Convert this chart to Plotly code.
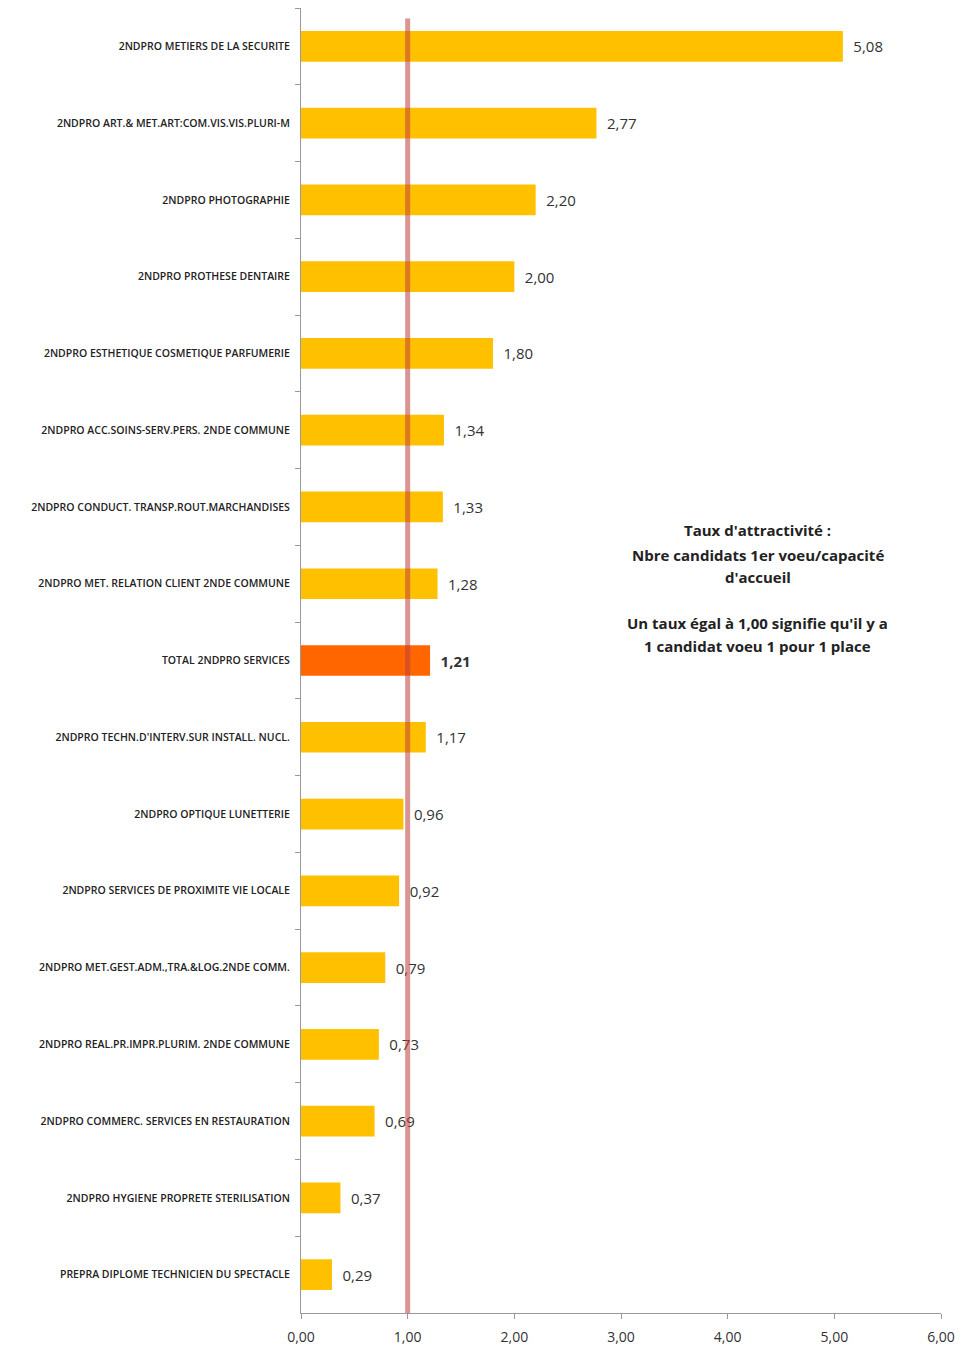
import plotly.graph_objects as go

categories = [
    "2NDPRO METIERS DE LA SECURITE",
    "2NDPRO ART.& MET.ART:COM.VIS.VIS.PLURI-M",
    "2NDPRO PHOTOGRAPHIE",
    "2NDPRO PROTHESE DENTAIRE",
    "2NDPRO ESTHETIQUE COSMETIQUE PARFUMERIE",
    "2NDPRO ACC.SOINS-SERV.PERS. 2NDE COMMUNE",
    "2NDPRO CONDUCT. TRANSP.ROUT.MARCHANDISES",
    "2NDPRO MET. RELATION CLIENT 2NDE COMMUNE",
    "TOTAL 2NDPRO SERVICES",
    "2NDPRO TECHN.D'INTERV.SUR INSTALL. NUCL.",
    "2NDPRO OPTIQUE LUNETTERIE",
    "2NDPRO SERVICES DE PROXIMITE VIE LOCALE",
    "2NDPRO MET.GEST.ADM.,TRA.&LOG.2NDE COMM.",
    "2NDPRO REAL.PR.IMPR.PLURIM. 2NDE COMMUNE",
    "2NDPRO COMMERC. SERVICES EN RESTAURATION",
    "2NDPRO HYGIENE PROPRETE STERILISATION",
    "PREPRA DIPLOME TECHNICIEN DU SPECTACLE",
]
values = [5.08, 2.77, 2.20, 2.00, 1.80, 1.34, 1.33, 1.28, 1.21, 1.17,
          0.96, 0.92, 0.79, 0.73, 0.69, 0.37, 0.29]
total_label = "TOTAL 2NDPRO SERVICES"
x_ticks = [0, 1, 2, 3, 4, 5, 6]
reference_rate = 1.0

note_lines = [
    "Taux d'attractivité :",
    "Nbre candidats 1er voeu/capacité",
    "d'accueil",
    "Un taux égal à 1,00 signifie qu'il y a",
    "1 candidat voeu 1 pour 1 place",
]
note_y = [0.600, 0.581, 0.564, 0.529, 0.511]

colors = ["#FF6600" if c == total_label else "#FFC000" for c in categories]
templates = ["\u2002<b>%{x:.2f}</b>" if c == total_label else "\u2002%{x:.2f}" for c in categories]

fig = go.Figure()
fig.add_trace(go.Bar(
    x=values, y=categories, orientation="h",
    marker=dict(color=colors, line=dict(width=0)),
    texttemplate=templates, textposition="outside",
    textfont=dict(size=15, color="#333333", family="Open Sans"),
    cliponaxis=False, hoverinfo="skip",
))

fig.add_shape(type="line", xref="x", yref="paper",
              x0=reference_rate, x1=reference_rate, y0=0, y1=0.992,
              line=dict(color="rgba(190,60,60,0.55)", width=5), layer="above")

for txt, yy in zip(note_lines, note_y):
    fig.add_annotation(
        xref="paper", yref="paper", x=0.714, y=yy, xanchor="center", yanchor="middle",
        text="<b>" + txt + "</b>", showarrow=False, align="center",
        font=dict(size=15, color="#222222", family="Open Sans"),
    )

fig.update_layout(
    width=961, height=1348,
    margin=dict(l=301, r=20, t=8, b=35),
    paper_bgcolor="white", plot_bgcolor="white",
    separators=", ",
    bargap=0.6,
    showlegend=False,
    xaxis=dict(range=[0, 6], tickvals=x_ticks, tickformat=".2f",
               showgrid=False, zeroline=False, automargin=False,
               showline=True, linecolor="#999999", linewidth=1,
               ticks="outside", ticklen=5, tickcolor="#999999",
               ticklabelstandoff=6,
               tickfont=dict(size=14, color="#333333", family="Open Sans")),
    yaxis=dict(autorange="reversed", showgrid=False, zeroline=False, automargin=False,
               showline=True, linecolor="#999999", linewidth=1,
               ticks="outside", ticklen=5, tickcolor="#999999",
               tickson="boundaries",
               tickfont=dict(size=10.5, color="#222222", family="Open Sans", weight=600),
               ticklabelstandoff=8),
)

fig.write_html(
    "out.html",
    config={"displayModeBar": False},
    post_script="document.body.style.margin='0';document.body.style.overflow='hidden';",
)
